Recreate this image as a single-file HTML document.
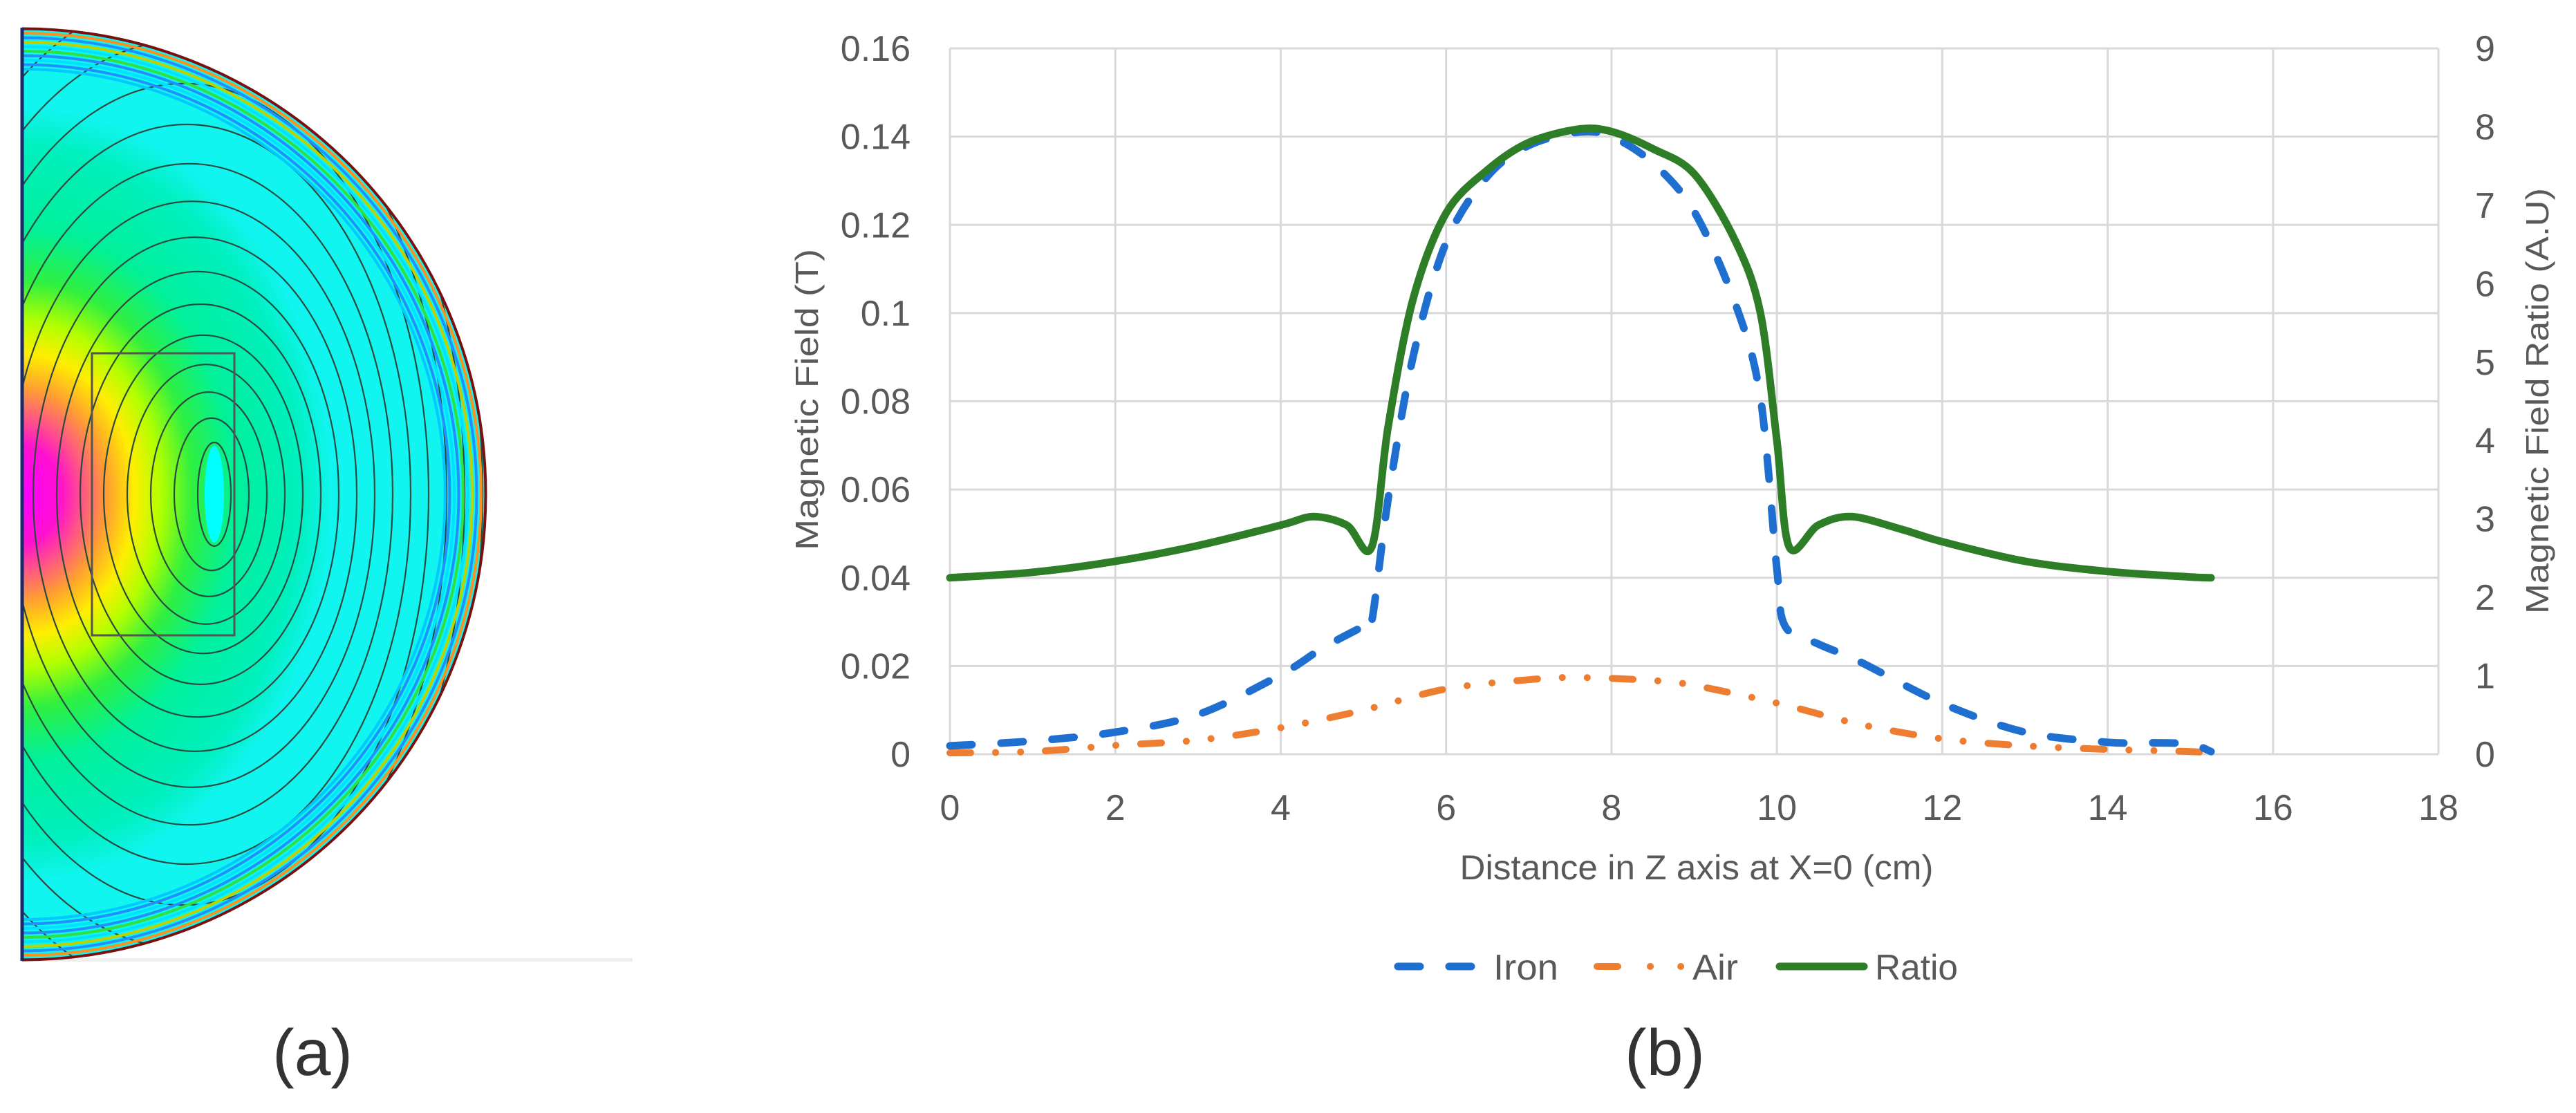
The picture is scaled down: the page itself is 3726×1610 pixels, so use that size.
<!DOCTYPE html>
<html><head><meta charset="utf-8"><style>
html,body{margin:0;padding:0;background:#fff;width:3726px;height:1610px;overflow:hidden;position:relative;}
svg{display:block;position:absolute;left:0;top:0;}
text{font-family:"Liberation Sans",sans-serif;}
</style></head><body>
<svg id="fig" width="3726" height="1610" viewBox="0 0 3726 1610" xmlns="http://www.w3.org/2000/svg">
<defs>
<clipPath id="halfEll"><path d="M32,40 A672,675 0 0 1 32,1390 Z"/></clipPath>
<radialGradient id="fieldGrad" gradientUnits="userSpaceOnUse" cx="32" cy="715" r="700" gradientTransform="translate(32,715) scale(0.8,1) translate(-32,-715)">
<stop offset="0" stop-color="#ff00ff"/>
<stop offset="0.10" stop-color="#ff10d0"/>
<stop offset="0.16" stop-color="#ff5a80"/>
<stop offset="0.22" stop-color="#ffa030"/>
<stop offset="0.29" stop-color="#ffee00"/>
<stop offset="0.36" stop-color="#b0ff00"/>
<stop offset="0.44" stop-color="#30f040"/>
<stop offset="0.55" stop-color="#00f09a"/>
<stop offset="0.72" stop-color="#00f0c0"/>
<stop offset="0.80" stop-color="#10f5ef"/>
<stop offset="1" stop-color="#10f5ef"/>
</radialGradient>
</defs>

<g>
  <rect x="30" y="1386" width="885" height="5" fill="#eeeeee"/>
  <path d="M32,40 A672,675 0 0 1 32,1390 Z" fill="url(#fieldGrad)"/>
  <g clip-path="url(#halfEll)" id="contours"></g>
  <ellipse cx="310" cy="715" rx="14" ry="70" fill="#00ffff"/>
  <g id="rim"></g>
  <rect x="133" y="511" width="206" height="408" fill="none" stroke="#555" stroke-width="3"/>
  <line x1="32" y1="40" x2="32" y2="1390" stroke="#1a2a6a" stroke-width="5"/>
  <text x="452" y="1555" font-size="95" text-anchor="middle" fill="#333">(a)</text>
</g>

<g id="chart"></g>
<text x="2408" y="1555" font-size="95" text-anchor="middle" fill="#333">(b)</text>
</svg>

<script>
const xTicks = [0,2,4,6,8,10,12,14,16,18];
const yLeftTicks = [0,0.02,0.04,0.06,0.08,0.1,0.12,0.14,0.16];
const yLeftLabels = ["0","0.02","0.04","0.06","0.08","0.1","0.12","0.14","0.16"];
const yRightTicks = [0,1,2,3,4,5,6,7,8,9];

const ironX = [0,1,2,3,4,4.5,5,5.1,5.3,5.6,6,6.5,7,7.6,8,8.5,9,9.5,9.8,10,10.1,10.5,11,12,13,14,14.5,15,15.25];
const ironY = [0.0019,0.003,0.005,0.009,0.018,0.024,0.029,0.030,0.058,0.09,0.116,0.131,0.138,0.141,0.14,0.134,0.123,0.102,0.081,0.042,0.029,0.025,0.021,0.0115,0.005,0.0027,0.0026,0.0023,0.0006];

const airX = [0,1,2,3,4,5,6,7,7.6,8.5,9,10,11,12,13,14,15,15.25];
const airY = [0.0003,0.0006,0.002,0.0032,0.006,0.010,0.0148,0.0169,0.0174,0.0167,0.0156,0.0116,0.0068,0.0035,0.0019,0.0011,0.0006,0.0002];

const ratioX = [0,1,2,3,4,4.4,4.8,5.1,5.3,5.6,6,6.5,7,7.6,8,8.5,9,9.5,9.8,10,10.15,10.5,10.9,11.5,12,13,14,15,15.25];
const ratioY = [2.25,2.32,2.46,2.66,2.92,3.03,2.92,2.64,4.18,5.8,6.9,7.45,7.8,7.97,7.94,7.72,7.4,6.54,5.63,4.0,2.64,2.92,3.03,2.87,2.71,2.46,2.33,2.26,2.25];

const legendNames = ["Iron","Air","Ratio"];

const NS = "http://www.w3.org/2000/svg";
const PL = 1374, PR = 3527, PT = 70, PB = 1091;
const xS = v => PL + v / 18 * (PR - PL);
const yL = v => PB - v / 0.16 * (PB - PT);
const yR = v => PB - v / 9 * (PB - PT);
const chart = document.getElementById('chart');
function mk(tag, attrs, parent, txt) {
  const e = document.createElementNS(NS, tag);
  for (const k in attrs) e.setAttribute(k, attrs[k]);
  if (txt !== undefined) e.textContent = txt;
  (parent || chart).appendChild(e);
  return e;
}

yLeftTicks.forEach((t, i) => {
  const l = mk('line', {x1: PL, x2: PR, y1: yL(t), y2: yL(t), stroke: '#d9d9d9', 'stroke-width': 3});
  
  
  const lb = mk('text', {x: 1317, y: yL(t) + 18, 'font-size': 52, 'text-anchor': 'end', fill: '#595959'}, chart, yLeftLabels[i]);
  
  
});
xTicks.forEach(t => {
  const l = mk('line', {x1: xS(t), x2: xS(t), y1: PT, y2: PB, stroke: '#d9d9d9', 'stroke-width': 3});
  
  
  const lb = mk('text', {x: xS(t), y: 1186, 'font-size': 52, 'text-anchor': 'middle', fill: '#595959'}, chart, String(t));
  
  
});
yRightTicks.forEach(t => {
  const lb = mk('text', {x: 3580, y: yR(t) + 18, 'font-size': 52, 'text-anchor': 'start', fill: '#595959'}, chart, String(t));
  
  
});

let t1 = mk('text', {x: 2454, y: 1272, 'font-size': 50, 'text-anchor': 'middle', fill: '#595959', textLength: 685, lengthAdjust: 'spacingAndGlyphs'}, chart, 'Distance in Z axis at X=0 (cm)');


let t2 = mk('text', {x: 0, y: 0, 'font-size': 46, 'text-anchor': 'middle', fill: '#595959', transform: 'translate(1183,578) rotate(-90)', textLength: 436, lengthAdjust: 'spacingAndGlyphs'}, chart, 'Magnetic Field  (T)');


let t3 = mk('text', {x: 0, y: 0, 'font-size': 46, 'text-anchor': 'middle', fill: '#595959', transform: 'translate(3686,580) rotate(-90)', textLength: 616, lengthAdjust: 'spacingAndGlyphs'}, chart, 'Magnetic Field Ratio (A.U)');



function smooth(xs, ys, yf) {
  const p = xs.map((x, i) => [xS(x), yf(ys[i])]);
  let d = 'M' + p[0][0].toFixed(1) + ',' + p[0][1].toFixed(1);
  const k = 0.16;
  for (let i = 0; i < p.length - 1; i++) {
    const p0 = p[Math.max(0, i - 1)], p1 = p[i], p2 = p[i + 1], p3 = p[Math.min(p.length - 1, i + 2)];
    const c1 = [p1[0] + (p2[0] - p0[0]) * k, p1[1] + (p2[1] - p0[1]) * k];
    const c2 = [p2[0] - (p3[0] - p1[0]) * k, p2[1] - (p3[1] - p1[1]) * k];
    d += ' C' + c1[0].toFixed(1) + ',' + c1[1].toFixed(1) + ' ' + c2[0].toFixed(1) + ',' + c2[1].toFixed(1) + ' ' + p2[0].toFixed(1) + ',' + p2[1].toFixed(1);
  }
  return d;
}
const airLine = mk('path', {d: smooth(airX, airY, yL), fill: 'none', stroke: '#ed7d31', 'stroke-width': 10, 'stroke-linecap': 'round', 'stroke-linejoin': 'round', 'stroke-dasharray': '30 36 0.1 36 0.1 36'});


const ironLine = mk('path', {d: smooth(ironX, ironY, yL), fill: 'none', stroke: '#1f6fd1', 'stroke-width': 11, 'stroke-linecap': 'round', 'stroke-linejoin': 'round', 'stroke-dasharray': '32 42'});


const ratioLine = mk('path', {d: smooth(ratioX, ratioY, yR), fill: 'none', stroke: '#2e7d27', 'stroke-width': 11, 'stroke-linecap': 'round', 'stroke-linejoin': 'round'});



const LY = 1398;
const lg = mk('g', {});


let e;
e = mk('line', {x1: 2022, x2: 2135, y1: LY, y2: LY, stroke: '#1f6fd1', 'stroke-width': 11, 'stroke-linecap': 'round', 'stroke-dasharray': '32 42'}, lg);


e = mk('text', {x: 2160, y: LY + 19, 'font-size': 52, fill: '#595959', textLength: 94, lengthAdjust: 'spacingAndGlyphs'}, lg, legendNames[0]);


e = mk('line', {x1: 2310, x2: 2433, y1: LY, y2: LY, stroke: '#ed7d31', 'stroke-width': 10, 'stroke-linecap': 'round', 'stroke-dasharray': '30 47 0.1 44 0.1 60'}, lg);


e = mk('text', {x: 2448, y: LY + 19, 'font-size': 52, fill: '#595959', textLength: 66, lengthAdjust: 'spacingAndGlyphs'}, lg, legendNames[1]);


e = mk('line', {x1: 2574, x2: 2696, y1: LY, y2: LY, stroke: '#2e7d27', 'stroke-width': 11, 'stroke-linecap': 'round'}, lg);


e = mk('text', {x: 2712, y: LY + 19, 'font-size': 52, fill: '#595959', textLength: 120, lengthAdjust: 'spacingAndGlyphs'}, lg, legendNames[2]);



const cg = document.getElementById('contours');
for (let i = 0; i < 20; i++) {
  const rx = 24 + i * 30, ry = 75 + i * 34 + i * i * 1.2;
  const c = document.createElementNS(NS, 'ellipse');
  c.setAttribute('cx', 310 - i * 4); c.setAttribute('cy', 715);
  c.setAttribute('rx', rx); c.setAttribute('ry', ry);
  c.setAttribute('fill', 'none'); c.setAttribute('stroke', '#2a4a40'); c.setAttribute('stroke-width', 2.2);
  
  
  cg.appendChild(c);
}
const rimCols = ['#00c8ff','#2090ff','#00e0ff','#2090ff','#30e040','#00e0ff','#c0d000','#2090ff','#ff9020','#7a1010'];
const rg = document.getElementById('rim');
rimCols.forEach((col, i) => {
  const inset = 60 - i * 6.5;
  const p = document.createElementNS(NS, 'path');
  p.setAttribute('d', `M32,${40 + inset} A${672 - inset},${675 - inset} 0 0 1 32,${1390 - inset}`);
  p.setAttribute('fill', 'none'); p.setAttribute('stroke', col); p.setAttribute('stroke-width', 4);
  
  
  rg.appendChild(p);
});
</script>
</body></html>
